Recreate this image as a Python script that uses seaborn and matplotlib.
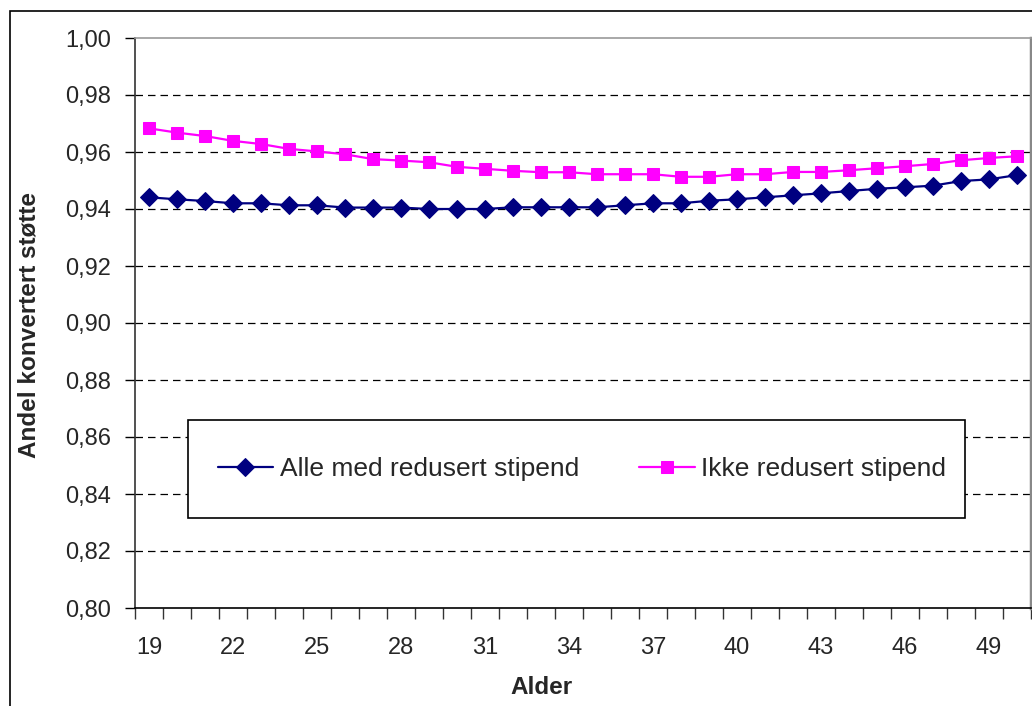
import matplotlib
matplotlib.use("Agg")
import matplotlib.pyplot as plt
import matplotlib.ticker as mticker
from matplotlib.patches import Rectangle
import seaborn as sns

# data
ages = list(range(19, 51))
alle_redusert = [0.9441, 0.9434, 0.9428, 0.9420, 0.9420, 0.9413, 0.9413, 0.9405,
                 0.9405, 0.9405, 0.9400, 0.9400, 0.9400, 0.9406, 0.9406, 0.9406,
                 0.9406, 0.9413, 0.9420, 0.9420, 0.9429, 0.9434, 0.9441, 0.9448,
                 0.9455, 0.9463, 0.9471, 0.9476, 0.9482, 0.9498, 0.9504, 0.9519]
ikke_redusert = [0.9683, 0.9668, 0.9656, 0.9639, 0.9628, 0.9611, 0.9602, 0.9592,
                 0.9575, 0.9570, 0.9564, 0.9548, 0.9541, 0.9534, 0.9529, 0.9529,
                 0.9522, 0.9522, 0.9522, 0.9513, 0.9513, 0.9522, 0.9522, 0.9530,
                 0.9530, 0.9536, 0.9543, 0.9550, 0.9558, 0.9571, 0.9579, 0.9585]
y_ticks = [0.80, 0.82, 0.84, 0.86, 0.88, 0.90, 0.92, 0.94, 0.96, 0.98, 1.00]
x_labels = list(range(19, 50, 3))

sns.set_style("white")
plt.rcParams["font.family"] = ["Liberation Sans", "DejaVu Sans"]

fig = plt.figure(figsize=(10.32, 7.06), dpi=100)
W, H = 1032, 706
ax = fig.add_axes([135 / W, 1 - 608 / H, 896 / W, 570 / H])

# outer chart border
fig.patches.append(Rectangle((10 / W, -0.1), 1.2, 1 - 11 / H + 0.1,
                             transform=fig.transFigure, fill=False,
                             edgecolor="black", linewidth=1.2, zorder=0))

sns.lineplot(x=ages, y=alle_redusert, ax=ax, color="#000080", marker="D",
             markersize=9, markeredgecolor="#000080", linewidth=1.6,
             label="Alle med redusert stipend", zorder=5)
sns.lineplot(x=ages, y=ikke_redusert, ax=ax, color="#FF00FF", marker="s",
             markersize=9, markeredgecolor="#FF00FF", linewidth=1.6,
             label="Ikke redusert stipend", zorder=5)

ax.set_xlim(18.5, 50.5)
ax.set_ylim(0.80, 1.00)

# y axis
ax.set_yticks(y_ticks)
ax.yaxis.set_major_formatter(mticker.FuncFormatter(lambda v, p: f"{v:.2f}".replace(".", ",")))
ax.tick_params(axis="y", which="major", direction="out", length=7, width=1,
               color="black", pad=10.5, labelsize=17, left=True)
for v in y_ticks[1:-1]:
    ax.axhline(v, color="black", linestyle=(0, (6, 4)), linewidth=0.9, zorder=1)

# x axis: labels every third age, ticks between categories
ax.set_xticks(x_labels)
ax.set_xticks([a + 0.5 for a in range(18, 51)], minor=True)
ax.tick_params(axis="x", which="major", length=0, pad=21, labelsize=17, bottom=True)
ax.tick_params(axis="x", which="minor", direction="out", length=8, width=1,
               color="#333333", bottom=True)

ax.spines["left"].set_color("#333333")
ax.spines["bottom"].set_color("black")
ax.spines["top"].set_color("#999999")
ax.spines["right"].set_color("#888888")
ax.spines["right"].set_linewidth(2.5)
for s in ["left", "bottom", "top"]:
    ax.spines[s].set_linewidth(1.2)

ax.set_xlabel("Alder", fontsize=17.5, fontweight="bold", va="center")
ax.set_ylabel("Andel konvertert støtte", fontsize=17.5, fontweight="bold", va="center")
ax.xaxis.set_label_coords((541 - 135) / 896, (608 - 687) / 570)
ax.yaxis.set_label_coords((29.5 - 135) / 896, (608 - 324.5) / 570)

# legend box
box = Rectangle(((188 - 135) / 896, (608 - 518) / 570), (965 - 188) / 896, 98 / 570,
                transform=ax.transAxes, facecolor="white", edgecolor="black",
                linewidth=1.2, zorder=3)
ax.add_patch(box)
leg = ax.legend(loc="center", bbox_to_anchor=((582 - 135) / 896, (608 - 469) / 570),
                ncol=2, frameon=False, fontsize=19, handlelength=2.1,
                handletextpad=0.25, columnspacing=2.3)
leg.set_zorder(4)

fig.savefig("out.png", dpi=100)
